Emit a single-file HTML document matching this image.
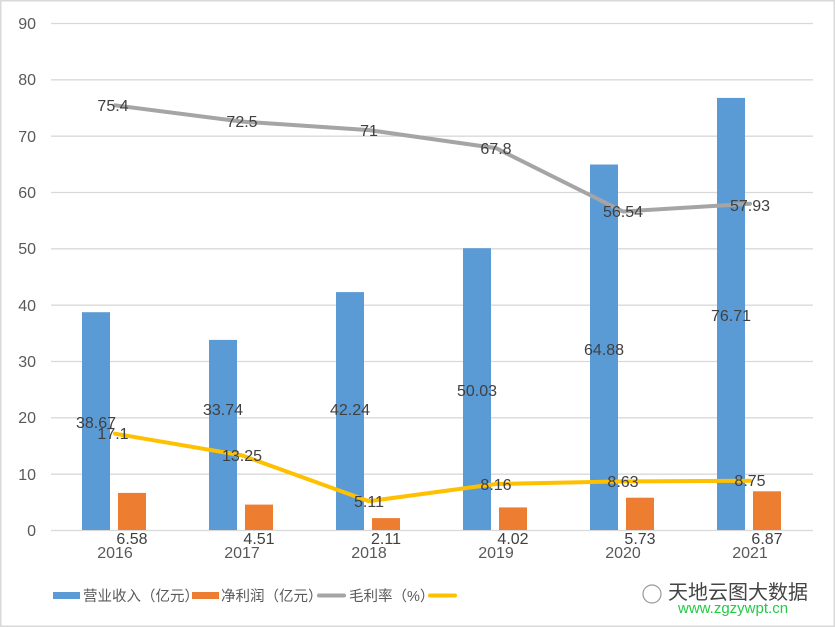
<!DOCTYPE html>
<html><head><meta charset="utf-8"><style>
body{margin:0;background:#fff}
svg{display:block}
text{font-family:"Liberation Sans","Noto Sans CJK SC",sans-serif}
</style></head><body>
<svg width="835" height="627" viewBox="0 0 835 627">
<rect x="0.5" y="0.5" width="834" height="626" fill="#fff" stroke="#d9d9d9" stroke-width="2"/>
<g stroke="#d9d9d9" stroke-width="1.3">
<line x1="51" x2="813" y1="23.5" y2="23.5"/>
<line x1="51" x2="813" y1="79.8" y2="79.8"/>
<line x1="51" x2="813" y1="136.2" y2="136.2"/>
<line x1="51" x2="813" y1="192.5" y2="192.5"/>
<line x1="51" x2="813" y1="248.8" y2="248.8"/>
<line x1="51" x2="813" y1="305.2" y2="305.2"/>
<line x1="51" x2="813" y1="361.5" y2="361.5"/>
<line x1="51" x2="813" y1="417.8" y2="417.8"/>
<line x1="51" x2="813" y1="474.2" y2="474.2"/>
<line x1="51" x2="813" y1="530.5" y2="530.5"/>
</g>
<g font-size="16" fill="#595959" text-anchor="end">
<text x="36" y="29">90</text><text x="36" y="85">80</text><text x="36" y="142">70</text><text x="36" y="198">60</text><text x="36" y="254">50</text><text x="36" y="311">40</text><text x="36" y="367">30</text><text x="36" y="423">20</text><text x="36" y="480">10</text><text x="36" y="536">0</text>
</g>
<g font-size="16" fill="#595959" text-anchor="middle">
<text x="115" y="558">2016</text><text x="242" y="558">2017</text><text x="369" y="558">2018</text><text x="496" y="558">2019</text><text x="623" y="558">2020</text><text x="750" y="558">2021</text>
</g>
<g fill="#5b9bd5">
<rect x="82" y="312.2" width="28" height="217.8"/>
<rect x="209" y="339.9" width="28" height="190.1"/>
<rect x="336" y="292.1" width="28" height="237.9"/>
<rect x="463" y="248.2" width="28" height="281.8"/>
<rect x="590" y="164.5" width="28" height="365.5"/>
<rect x="717" y="97.9" width="28" height="432.1"/>
</g>
<g fill="#ed7d31">
<rect x="118" y="492.9" width="28" height="37.1"/>
<rect x="245" y="504.6" width="28" height="25.4"/>
<rect x="372" y="518.1" width="28" height="11.9"/>
<rect x="499" y="507.4" width="28" height="22.6"/>
<rect x="626" y="497.7" width="28" height="32.3"/>
<rect x="753" y="491.3" width="28" height="38.7"/>
</g>
<polyline fill="none" stroke="#a5a5a5" stroke-width="4" stroke-linecap="round" stroke-linejoin="round" points="115,105.3 242,121.6 369,130.1 496,148.1 623,211.5 750,203.7"/>
<polyline fill="none" stroke="#ffc000" stroke-width="4" stroke-linecap="round" stroke-linejoin="round" points="115,433.7 242,455.4 369,501.2 496,484 623,481.4 750,480.7"/>
<g font-size="16" fill="#404040" text-anchor="middle">
<text x="96" y="428">38.67</text><text x="223" y="415">33.74</text><text x="350" y="415">42.24</text><text x="477" y="396">50.03</text><text x="604" y="355">64.88</text><text x="731" y="321">76.71</text>
<text x="132" y="544">6.58</text><text x="259" y="544">4.51</text><text x="386" y="544">2.11</text><text x="513" y="544">4.02</text><text x="640" y="544">5.73</text><text x="767" y="544">6.87</text>
<text x="113" y="111">75.4</text><text x="242" y="127">72.5</text><text x="369" y="136">71</text><text x="496" y="154">67.8</text><text x="623" y="217">56.54</text><text x="750" y="211">57.93</text>
<text x="113" y="439">17.1</text><text x="242" y="461">13.25</text><text x="369" y="507">5.11</text><text x="496" y="490">8.16</text><text x="623" y="487">8.63</text><text x="750" y="486">8.75</text>
</g>
<g font-size="14.5" fill="#595959">
<rect x="53" y="592" width="27" height="7" fill="#5b9bd5"/><text x="83" y="601">营业收入（亿元）</text>
<rect x="192" y="592" width="27" height="7" fill="#ed7d31"/><text x="221" y="601">净利润（亿元）</text>
<line x1="319" x2="344" y1="595.5" y2="595.5" stroke="#a5a5a5" stroke-width="4" stroke-linecap="round"/><text x="349" y="601">毛利率（%）</text>
<line x1="430" x2="455" y1="595.5" y2="595.5" stroke="#ffc000" stroke-width="4" stroke-linecap="round"/>
</g>
<g>
<text x="668" y="599" font-size="20" fill="#444">天地云图大数据</text>
<text x="678" y="613" font-size="15" fill="#22cc44" font-family="Liberation Mono,monospace">www.zgzywpt.cn</text>
<circle cx="652" cy="594" r="9" fill="#fff" stroke="#999" stroke-width="1.2"/>
</g>
</svg>
</body></html>
